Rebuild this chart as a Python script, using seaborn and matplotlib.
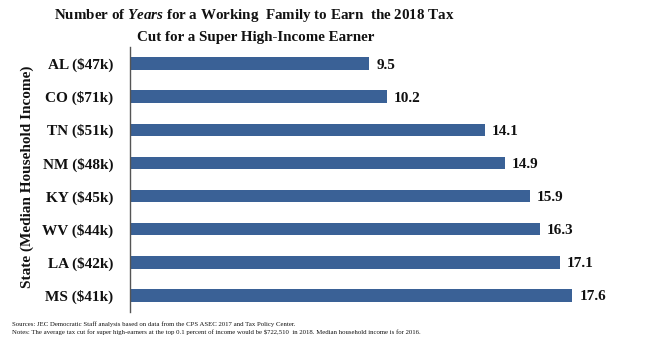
import matplotlib
matplotlib.use("Agg")
import matplotlib.pyplot as plt
import seaborn as sns
import pandas as pd

states = ["AL ($47k)", "CO ($71k)", "TN ($51k)", "NM ($48k)",
          "KY ($45k)", "WV ($44k)", "LA ($42k)", "MS ($41k)"]
years = [9.5, 10.2, 14.1, 14.9, 15.9, 16.3, 17.1, 17.6]

df = pd.DataFrame({"state": states, "years": years})

sns.set_theme(style="white")
plt.rcParams["font.family"] = ["Liberation Serif", "DejaVu Serif"]
plt.rcParams["mathtext.fontset"] = "custom"
plt.rcParams["mathtext.rm"] = "Liberation Serif:bold"
plt.rcParams["mathtext.it"] = "Liberation Serif:italic:bold"
plt.rcParams["mathtext.bf"] = "Liberation Serif:bold"

fig = plt.figure(figsize=(6.46, 3.49), dpi=100)
ax = fig.add_axes([130 / 646, 1 - 312 / 349, 490 / 646, 265 / 349])

bar_color = "#3A6196"
sns.barplot(data=df, x="years", y="state", color=bar_color, width=0.38,
            saturation=1, ax=ax, orient="h", linewidth=0)

ax.set_xlim(-0.05, 19.5)
ax.set_ylim(7.5, -0.5)

for i, v in enumerate(years):
    ax.text(v + 0.28, i, f"{v:.1f}", va="center_baseline", ha="left",
            fontsize=11, fontweight="bold", color="#111111")

ax.set_xlabel("")
ax.set_ylabel("")
ax.set_xticks([])
ax.tick_params(axis="y", length=0, pad=12)
for lbl in ax.get_yticklabels():
    lbl.set_fontweight("bold")
    lbl.set_fontsize(11)
    lbl.set_color("#111111")

for side in ["top", "right", "bottom"]:
    ax.spines[side].set_visible(False)
ax.spines["left"].set_color("#555555")
ax.spines["left"].set_linewidth(1.0)

fig.text(27 / 646, 1 - 177 / 349, "State (Median Household Income)",
         rotation=90, ha="center", va="center", fontsize=11,
         fontweight="bold", color="#111111")

fig.text(254 / 646, 1 - 16 / 349,
         r"Number of $\it{Years}$ for a Working  Family to Earn  the 2018 Tax",
         ha="center", va="center", fontsize=10.8, fontweight="bold",
         color="#111111")
fig.text(256 / 646, 1 - 38 / 349,
         "Cut for a Super High-Income Earner",
         ha="center", va="center", fontsize=10.8, fontweight="bold",
         color="#111111")

fig.text(12 / 646, 1 - 324 / 349,
         "Sources: JEC Democratic Staff analysis based on data from the CPS ASEC 2017 and Tax Policy Center.",
         ha="left", va="center", fontsize=4.9, color="#111111")
fig.text(12 / 646, 1 - 332 / 349,
         "Notes: The average tax cut for super high-earners at the top 0.1 percent of income would be $722,510  in 2018. Median household income is for 2016.",
         ha="left", va="center", fontsize=4.9, color="#111111")

fig.savefig("out.png", dpi=100)
